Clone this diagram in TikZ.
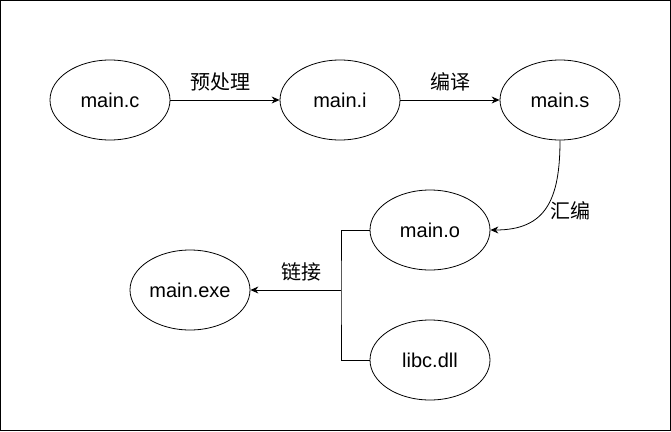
\documentclass[tikz,border=0pt]{standalone}
\usepackage{fontspec}
\setmainfont{Liberation Sans}
\newfontfamily\cjk{Noto Sans CJK SC}
\usepackage{tikz}
\usetikzlibrary{positioning}
\usetikzlibrary{calc,arrows.meta}
\usetikzlibrary{shapes.geometric}

\begin{document}
\begin{tikzpicture}[x=1pt,y=-1pt,
	file/.style={draw, ellipse, minimum width=120pt, minimum height=80pt, inner sep=0pt, line width=0.8pt, font=\fontsize{20}{24}\selectfont},
	link/.style={line width=0.8pt, -{Stealth[length=8pt,width=7pt]}},
	plain/.style={line width=0.8pt},
	tag/.style={font=\cjk\fontsize{20}{24}\selectfont}]
	
	% frame of the whole picture
	\useasboundingbox (0,0) rectangle (671,431);
	\draw[line width=1pt] (0.5,0.5) rectangle (670.5,430.5);
	
	% the files, placed at coordinates
	\node[file] (F1) at (110,100) {main.c};
	\node[file] (F2) at (340,100) {main.i};
	\node[file] (F3) at (560,100) {main.s};
	\node[file] (F4) at (430,230) {main.o};
	\node[file] (F5) at (190,290) {main.exe};
	\node[file] (F6) at (430,360) {libc.dll};
	
	% junction of the link step
	\coordinate (J) at (341,290);
	
	% steps
	\draw[link] (F1) -- (F2);
	\draw[link] (F2) -- (F3);
	\draw[link] (F3.south) .. controls ($(F3.south)+(0,60)$) and ($(F4.east)+(55,0)$) .. (F4.east);
	\draw[plain] (F4.west) -| (J) |- (F6.west);
	\draw[link] (J) -- (F5.east);
	
	% step names
	\node[tag] (L1) at (220,82) {预处理};
	\node[tag] (L2) at (450,82) {编译};
	\node[tag] (L3) at (570,211) {汇编};
	\node[tag] (L4) at (301,272) {链接};
	
\end{tikzpicture}
\end{document}
